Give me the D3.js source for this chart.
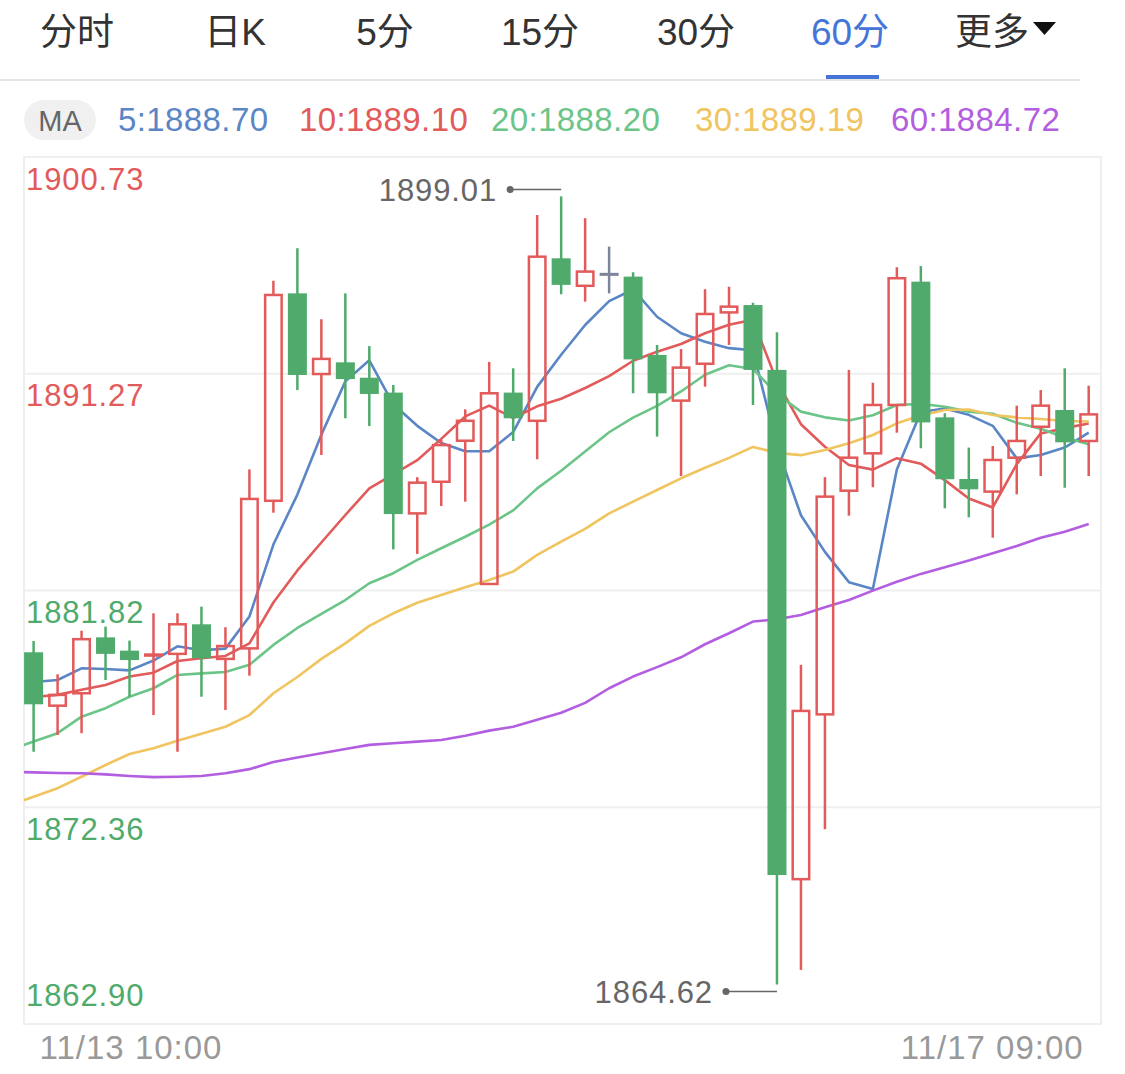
<!DOCTYPE html>
<html><head><meta charset="utf-8">
<script src="https://cdn.jsdelivr.net/npm/d3@7"></script>
<style>body{margin:0;background:#fff;}svg{display:block;}</style>
</head><body>
<svg id="chart" width="1125" height="1074"></svg>
<script>
const tabs = ["分时","日K","5分","15分","30分","60分","更多"];
const activeTab = "60分";
const opens  = [1879.12,1876.79,1877.33,1879.77,1879.19,1878.98,1879.05,1880.34,1878.83,1879.29,1885.73,1894.78,1891.26,1891.77,1891.10,1890.45,1885.18,1886.56,1888.35,1882.10,1890.45,1889.22,1896.31,1895.11,1895.61,1895.51,1892.09,1890.10,1891.71,1893.95,1894.27,1891.44,1869.22,1876.41,1886.17,1887.80,1889.91,1895.29,1889.37,1886.68,1886.13,1887.61,1888.96,1889.69,1888.34];
const highs  = [1879.61,1878.16,1880.06,1880.24,1879.63,1880.82,1880.82,1881.11,1880.21,1887.10,1895.33,1896.75,1893.65,1894.78,1892.48,1890.78,1886.76,1888.38,1889.72,1891.79,1891.51,1898.20,1899.01,1898.06,1896.82,1895.70,1892.53,1892.35,1894.96,1895.07,1894.37,1893.08,1878.57,1886.76,1891.44,1890.88,1895.92,1895.97,1889.55,1888.05,1888.12,1889.88,1890.56,1891.51,1890.75];
const lows   = [1874.78,1875.51,1875.59,1877.91,1877.18,1876.38,1874.78,1877.18,1876.60,1878.10,1885.21,1890.56,1887.73,1889.33,1888.99,1883.61,1883.41,1885.50,1885.69,1882.10,1888.34,1887.54,1894.74,1894.42,1894.78,1890.42,1888.53,1886.81,1890.71,1892.53,1889.91,1864.62,1865.26,1871.40,1885.08,1886.32,1888.70,1888.02,1885.40,1885.01,1884.12,1886.01,1886.81,1886.30,1886.81];
const closes = [1876.85,1877.26,1879.69,1879.05,1878.78,1879.02,1880.34,1878.86,1879.39,1885.81,1894.71,1891.22,1891.92,1891.04,1890.39,1885.15,1886.52,1888.16,1889.22,1890.42,1889.33,1896.38,1895.15,1895.73,1895.61,1891.90,1890.42,1891.54,1893.88,1894.20,1891.44,1869.40,1876.56,1885.91,1887.61,1889.91,1895.44,1889.15,1886.67,1886.23,1887.51,1888.34,1889.88,1888.28,1889.50];
// MA arrays start one bar before the first visible candle (null = not drawn there)
const ma5  = [null,1877.82,1877.91,1878.42,1878.39,1878.33,1878.76,1879.38,1879.21,1879.28,1880.68,1883.82,1886.00,1888.61,1890.94,1891.86,1889.94,1889.00,1888.25,1887.89,1887.89,1888.73,1890.70,1892.10,1893.40,1894.44,1894.95,1893.76,1893.04,1892.67,1892.39,1892.30,1888.09,1885.10,1883.50,1882.18,1881.88,1887.09,1889.60,1889.76,1889.48,1889.00,1887.58,1887.73,1888.05,1888.70];
const ma10 = [null,1877.17,1877.26,1877.48,1877.69,1878.06,1878.23,1878.74,1878.86,1878.96,1879.51,1881.29,1882.69,1883.91,1885.11,1886.27,1886.88,1887.50,1888.43,1889.41,1889.88,1889.34,1889.85,1890.18,1890.65,1891.17,1891.84,1892.23,1892.57,1893.04,1893.41,1893.63,1890.93,1889.07,1888.09,1887.29,1887.09,1887.59,1887.35,1886.63,1885.83,1885.44,1887.33,1888.67,1888.90,1889.10];
const ma20 = [1874.85,1875.23,1875.59,1876.31,1876.68,1877.18,1877.55,1878.13,1878.20,1878.26,1878.57,1879.44,1880.18,1880.79,1881.40,1882.13,1882.57,1883.15,1883.66,1884.16,1884.69,1885.31,1886.27,1887.04,1887.88,1888.72,1889.36,1889.87,1890.50,1891.23,1891.64,1891.48,1890.39,1889.62,1889.37,1889.23,1889.46,1889.91,1889.96,1889.83,1889.62,1889.53,1889.13,1888.87,1888.49,1888.20];
const ma30 = [1872.45,1872.82,1873.19,1873.69,1874.20,1874.68,1874.93,1875.26,1875.56,1875.87,1876.38,1877.33,1878.04,1878.83,1879.51,1880.27,1880.82,1881.28,1881.62,1881.96,1882.27,1882.64,1883.37,1883.95,1884.50,1885.18,1885.69,1886.20,1886.71,1887.17,1887.60,1888.08,1887.82,1887.72,1887.95,1888.24,1888.60,1889.11,1889.45,1889.69,1889.71,1889.47,1889.37,1889.30,1889.21,1889.19];
const ma60 = [1873.90,1873.88,1873.85,1873.84,1873.79,1873.72,1873.67,1873.69,1873.72,1873.84,1874.02,1874.33,1874.53,1874.71,1874.90,1875.08,1875.15,1875.22,1875.29,1875.48,1875.70,1875.87,1876.17,1876.48,1876.91,1877.55,1878.06,1878.47,1878.90,1879.47,1879.95,1880.46,1880.56,1880.75,1881.08,1881.40,1881.81,1882.20,1882.54,1882.83,1883.12,1883.44,1883.76,1884.12,1884.38,1884.72];
const maPeriods = [5,10,20,30,60];
const yTicks = [1900.73,1891.27,1881.82,1872.36,1862.90];
const xLabels = ["11/13 10:00","11/17 09:00"];

const C = {red:"#e25a5a", green:"#4faa6b", gray:"#7d8398", text:"#333", blue:"#4575d9", grid:"#efefef"};
const maColors = ["#5a86c6","#e25a5a","#6cc588","#f0c45e","#b35de0"];
const maSeries = [ma5, ma10, ma20, ma30, ma60];
const numFont = "'Liberation Sans', Arial, Helvetica, sans-serif";
const cjkFont = "'Liberation Sans', 'Noto Sans CJK SC', sans-serif";

const svg = d3.select("#chart");
const L = 24, R = 1101, T = 157, B = 1024;
const n = closes.length;
const x = d3.scaleLinear().domain([0, n - 1]).range([33.6, 1088.7]);
const y = d3.scaleLinear().domain([yTicks[yTicks.length-1], yTicks[0]]).range([B, T]);

// Tabs (layout: tab centre positions)
const tabCenters = [77, 235, 385, 540, 696, 850, 992];
const tabX = d3.scaleOrdinal().domain(tabs).range(tabCenters);
svg.selectAll("text.tab").data(tabs).enter().append("text")
  .attr("x", d => tabX(d))
  .attr("y", 45).attr("text-anchor", "middle")
  .attr("font-family", cjkFont).attr("font-size", 37)
  .attr("fill", d => d === activeTab ? C.blue : C.text)
  .text(d => d);
const tri = d3.path();
const tx = tabX("更多") + 41;
tri.moveTo(tx, 22); tri.lineTo(tx + 23, 22); tri.lineTo(tx + 11.5, 35); tri.closePath();
svg.append("path").attr("d", tri.toString()).attr("fill", "#111");
svg.append("rect").attr("x", 0).attr("y", 79).attr("width", 1080).attr("height", 2).attr("fill", "#e6e6e6");
svg.append("rect").attr("x", tabX(activeTab) - 24).attr("y", 75).attr("width", 53).attr("height", 4).attr("fill", C.blue);

// MA legend
svg.append("rect").attr("x", 24).attr("y", 100).attr("width", 72).attr("height", 40).attr("rx", 20).attr("fill", "#f0f0f0");
svg.append("text").attr("x", 60).attr("y", 131).attr("text-anchor", "middle")
  .attr("font-family", numFont).attr("font-size", 29).attr("fill", "#666").text("MA");
const legendX = [118, 299, 491, 695, 891];
svg.selectAll("text.leg").data(maPeriods).enter().append("text")
  .attr("x", (d, i) => legendX[i]).attr("y", 131)
  .attr("font-family", numFont).attr("font-size", 33).attr("letter-spacing", 0.4)
  .attr("fill", (d, i) => maColors[i])
  .text((d, i) => d + ":" + maSeries[i][maSeries[i].length - 1].toFixed(2));

// Plot frame & grid
svg.append("rect").attr("x", L).attr("y", T).attr("width", R - L).attr("height", B - T)
  .attr("fill", "none").attr("stroke", C.grid).attr("stroke-width", 2);
svg.selectAll("line.grid").data(yTicks.slice(1, -1)).enter().append("line")
  .attr("x1", L).attr("x2", R).attr("y1", d => y(d)).attr("y2", d => y(d))
  .attr("stroke", C.grid).attr("stroke-width", 2);

// MA lines (index offset -1, clipped to plot)
svg.append("clipPath").attr("id", "plotclip").append("rect").attr("x", L).attr("y", T).attr("width", R - L).attr("height", B - T);
const line = d3.line().defined(d => d != null).x((d, i) => x(i - 1)).y(d => y(d));
svg.append("g").attr("clip-path", "url(#plotclip)")
  .selectAll("path.ma").data(maSeries).enter().append("path")
  .attr("d", line).attr("fill", "none")
  .attr("stroke", (d, i) => maColors[i]).attr("stroke-width", 2.6)
  .attr("stroke-linejoin", "round");

// Candles
const bodyW = 19;
const col = i => closes[i] > opens[i] ? C.red : (closes[i] < opens[i] ? C.green : C.gray);
const g = svg.append("g");
d3.range(n).forEach(i => {
  const o = opens[i], c = closes[i], h = highs[i], l = lows[i];
  const top = y(Math.max(o, c)), bot = y(Math.min(o, c));
  const cx = x(i), color = col(i);
  if (c > o) {
    g.append("line").attr("x1", cx).attr("x2", cx).attr("y1", y(h)).attr("y2", top).attr("stroke", color).attr("stroke-width", 2.5);
    g.append("line").attr("x1", cx).attr("x2", cx).attr("y1", bot).attr("y2", y(l)).attr("stroke", color).attr("stroke-width", 2.5);
    const hgt = Math.max(bot - top, 1);
    g.append("rect").attr("x", cx - bodyW / 2 + 1.25).attr("y", top).attr("width", bodyW - 2.5).attr("height", hgt)
      .attr("fill", "none").attr("stroke", color).attr("stroke-width", 2.5);
  } else {
    g.append("line").attr("x1", cx).attr("x2", cx).attr("y1", y(h)).attr("y2", y(l)).attr("stroke", color).attr("stroke-width", 2.5);
    g.append("rect").attr("x", cx - bodyW / 2).attr("y", top - (c === o ? 1.5 : 0)).attr("width", bodyW)
      .attr("height", Math.max(bot - top, 3)).attr("fill", color);
  }
});

// Y labels
const mid = (yTicks[0] + yTicks[yTicks.length - 1]) / 2;
svg.selectAll("text.ytick").data(yTicks).enter().append("text")
  .attr("x", 26).attr("y", (d, i) => i === yTicks.length - 1 ? y(d) - 18 : y(d) + 32.5)
  .attr("font-family", numFont).attr("font-size", 31).attr("letter-spacing", 0.9)
  .attr("fill", d => d > mid + 0.01 ? C.red : C.green)
  .text(d => d.toFixed(2));

// High / low annotations
const hiIdx = d3.maxIndex(highs), loIdx = d3.minIndex(lows);
function annotate(idx, val, dy) {
  const yy = y(val) + dy, cx = x(idx);
  svg.append("line").attr("x1", cx - 51).attr("x2", cx).attr("y1", yy).attr("y2", yy).attr("stroke", "#666").attr("stroke-width", 1.5);
  svg.append("circle").attr("cx", cx - 51).attr("cy", yy).attr("r", 3.5).attr("fill", "#666");
  svg.append("text").attr("x", cx - 64).attr("y", yy + 11.5).attr("text-anchor", "end")
    .attr("font-family", numFont).attr("font-size", 31).attr("letter-spacing", 0.9).attr("fill", "#666").text(val.toFixed(2));
}
annotate(hiIdx, highs[hiIdx], -7);
annotate(loIdx, lows[loIdx], 7);

// X labels
svg.append("text").attr("x", x(0) + 6).attr("y", 1059)
  .attr("font-family", numFont).attr("font-size", 33).attr("letter-spacing", 1)
  .attr("fill", "#999").text(xLabels[0]);
svg.append("text").attr("x", x(n - 1) - 5).attr("y", 1059).attr("text-anchor", "end")
  .attr("font-family", numFont).attr("font-size", 33).attr("letter-spacing", 1)
  .attr("fill", "#999").text(xLabels[1]);
</script>
</body></html>
